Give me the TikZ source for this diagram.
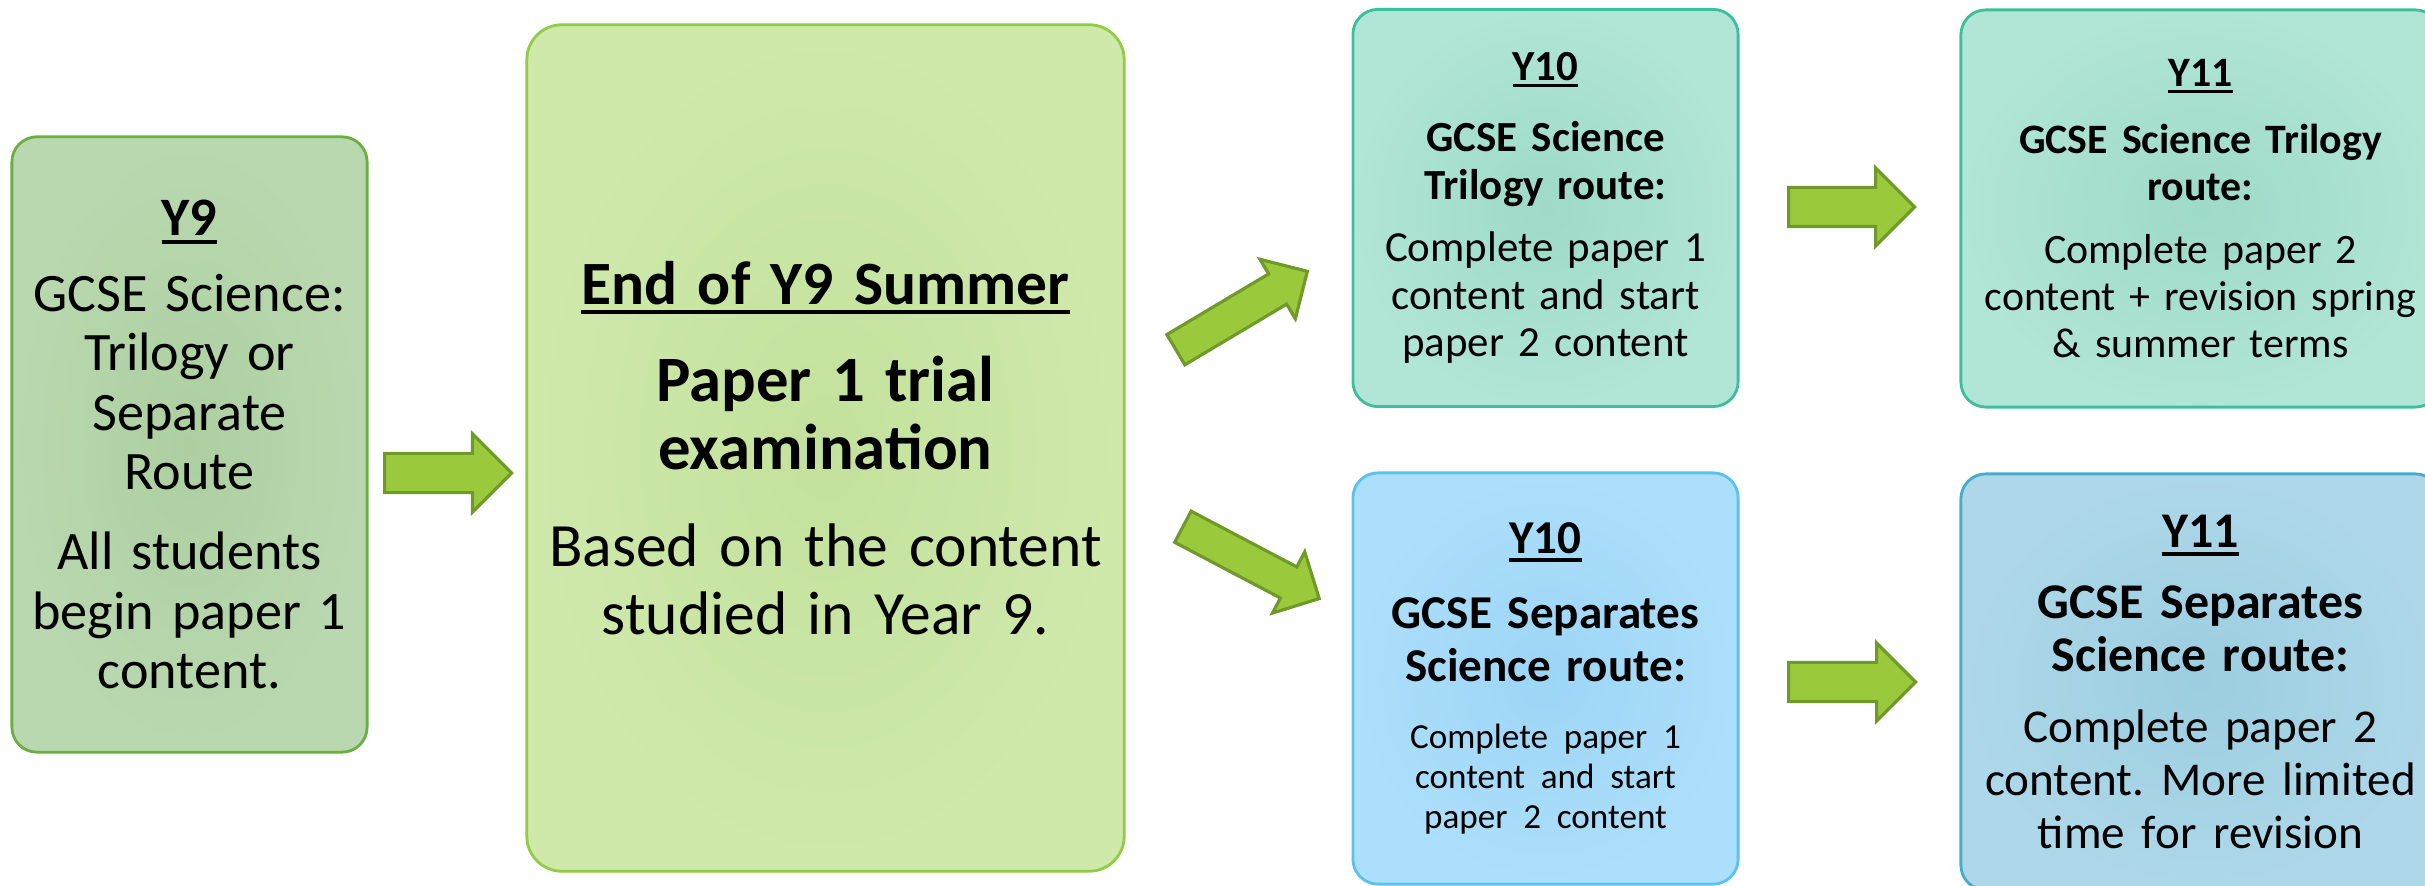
\documentclass[tikz,border=0pt]{standalone}
\usepackage{fontspec}
\setmainfont{Carlito}
\frenchspacing
\usetikzlibrary{shapes.arrows}
\definecolor{sagefill}{HTML}{BAD8B0}
\definecolor{sagemid}{HTML}{ACCFA0}
\definecolor{sageline}{HTML}{6AAE45}
\definecolor{limefill}{HTML}{CFE9AB}
\definecolor{limemid}{HTML}{C3E19C}
\definecolor{limeline}{HTML}{93CB45}
\definecolor{mintfill}{HTML}{B1E5D5}
\definecolor{mintmid}{HTML}{9DDAC7}
\definecolor{mintline}{HTML}{3DBE9C}
\definecolor{skyfill}{HTML}{ACDFFB}
\definecolor{skymid}{HTML}{9DD5F6}
\definecolor{skyline}{HTML}{5BC2EE}
\definecolor{tealfill}{HTML}{AED8E9}
\definecolor{tealmid}{HTML}{9BCEE0}
\definecolor{tealline}{HTML}{47ACCA}
\definecolor{arrowfill}{HTML}{9ACA3C}
\definecolor{arrowline}{HTML}{6F9A2A}
\newcommand\yr[1]{{\bfseries\setbox0=\hbox{#1}\rlap{\rule[-0.16em]{\wd0}{0.07em}}\box0}}

\begin{document}
\begin{tikzpicture}[x=0.01cm,y=-0.01cm,
  stage/.style={draw,line width=0.8pt,rounded corners=0.25cm,align=center,inner sep=0pt},
  blockarrow/.style={single arrow,draw=arrowline,fill=arrowfill,line width=0.9pt,
    inner sep=0pt,inner ysep=0.18cm,minimum width=0pt,single arrow head extend=0.195cm,anchor=tail},
  slimarrow/.style={blockarrow,inner ysep=0.16cm,single arrow head extend=0.17cm}]
\useasboundingbox (0,0) rectangle (2425,886);

\node[stage,draw=sageline,inner color=sagemid,outer color=sagefill,
  minimum width=3.55cm,minimum height=6.15cm,text width=3.45cm,
  font=\fontsize{15.4}{16.9}\selectfont] (y9) at (189.5,444.5)
  {\yr{Y9}\\[4.7pt] GCSE Science:\\ Trilogy or\\ Separate\\ Route\\[5.9pt]
   All students\\ begin paper 1\\ content.};

\node[stage,draw=limeline,inner color=limemid,outer color=limefill,rounded corners=0.35cm,
  minimum width=5.97cm,minimum height=8.46cm,text width=5.8cm,
  font=\fontsize{17.5}{19.3}\selectfont] (summer) at (825.5,448)
  {\yr{End of Y9 Summer}\\[8.3pt]
   {\fontsize{18.4}{19.3}\selectfont\textbf{Paper 1 trial}}\\
   {\fontsize{18.4}{19.3}\selectfont\textbf{examination}}\\[8.3pt]
   Based on the content\\ studied in Year 9.};

\node[stage,draw=mintline,inner color=mintmid,outer color=mintfill,
  minimum width=3.85cm,minimum height=3.97cm,text width=3.75cm,
  font=\fontsize{12.2}{13.6}\selectfont] (tri10) at (1545.5,208)
  {\yr{Y10}\\[6.8pt] \textbf{GCSE Science}\\ \textbf{Trilogy route:}\\[3.9pt]
   Complete paper 1\\ content and start\\ paper 2 content};

\node[stage,draw=mintline,inner color=mintmid,outer color=mintfill,
  minimum width=4.79cm,minimum height=3.97cm,text width=4.6cm,
  font=\fontsize{11.9}{13.4}\selectfont] (tri11) at (2200.5,208.5)
  {\yr{Y11}\\[5.9pt] \textbf{GCSE Science Trilogy}\\ \textbf{route:}\\[4.4pt]
   Complete paper 2\\ content + revision spring\\ \& summer terms};

\node[stage,draw=skyline,inner color=skymid,outer color=skyfill,
  minimum width=3.85cm,minimum height=4.11cm,text width=3.75cm,
  font=\fontsize{13.4}{15}\selectfont] (sep10) at (1545.5,678.5)
  {\yr{Y10}\\[6.3pt] \textbf{GCSE Separates}\\ \textbf{Science route:}\\[7.5pt]
   \fontsize{10}{11.4}\selectfont Complete paper 1\\ content and start\\ paper 2 content\par
   \vspace*{-11pt}};

\node[stage,draw=tealline,inner color=tealmid,outer color=tealfill,
  minimum width=4.79cm,minimum height=4.16cm,text width=4.6cm,
  font=\fontsize{14.2}{15}\selectfont] (sep11) at (2200.5,682)
  {\yr{Y11}\\[5.2pt] \textbf{GCSE Separates}\\ \textbf{Science route:}\\[5.2pt]
   \fontsize{13.4}{15}\selectfont Complete paper 2\\ content. More limited\\ time for revision};

\node[blockarrow,minimum height=1.27cm] (go9) at (383,473) {};
\node[slimarrow,minimum height=1.53cm,rotate=30.8] (gotri) at (1174.5,350.5) {};
\node[slimarrow,minimum height=1.54cm,rotate=-27.8] (gosep) at (1181.5,526) {};
\node[blockarrow,minimum height=1.26cm] (gotri11) at (1787,207) {};
\node[blockarrow,minimum height=1.27cm] (gosep11) at (1787,682) {};
\end{tikzpicture}
\end{document}
